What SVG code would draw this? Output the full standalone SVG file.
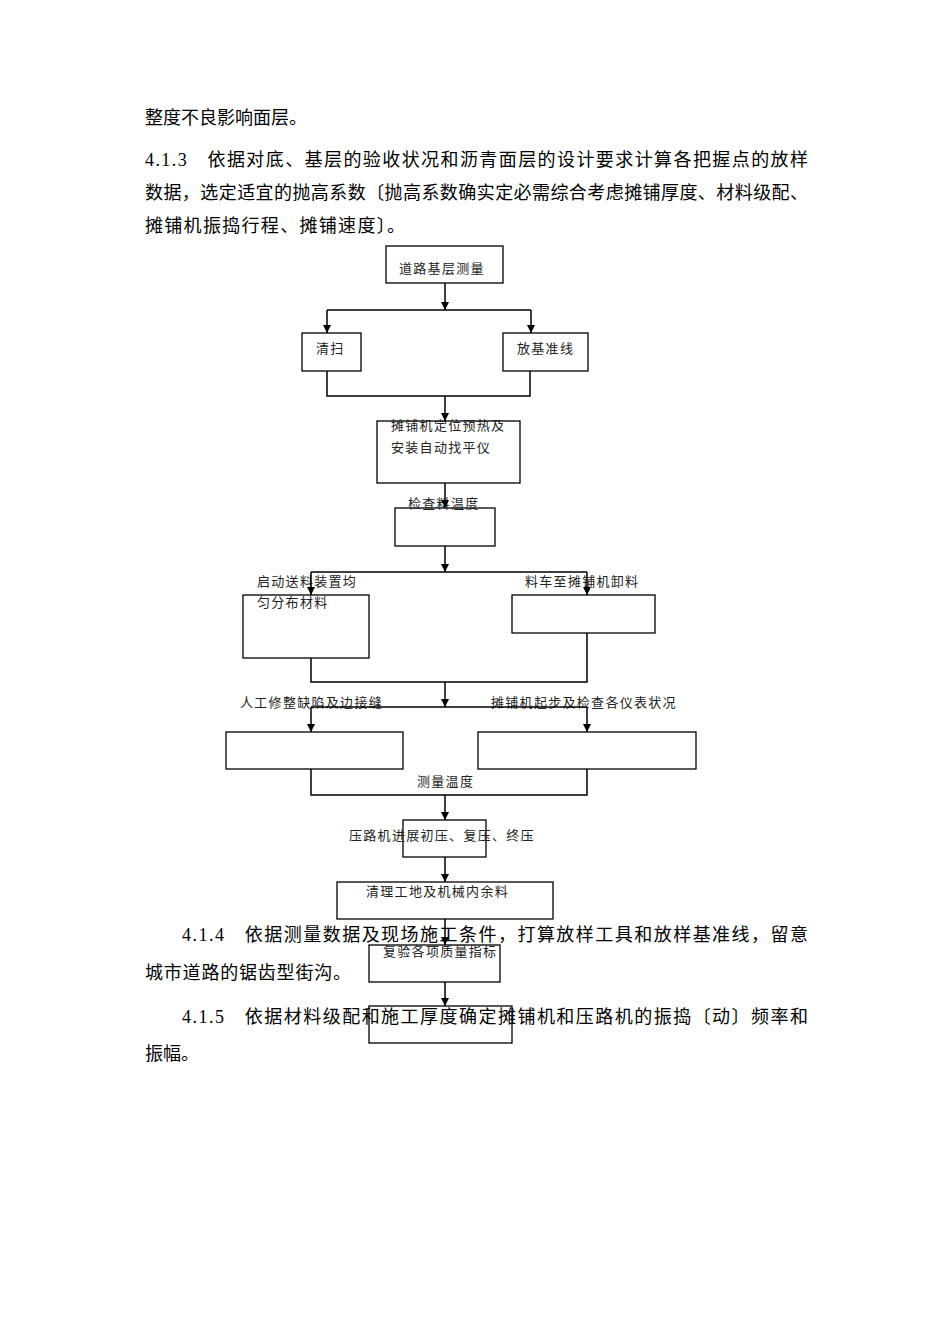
<svg xmlns="http://www.w3.org/2000/svg" width="950" height="1344" viewBox="0 0 950 1344">
<style>
.b{font-family:"Liberation Serif","Noto Sans CJK SC",serif;font-size:18px;fill:#000}
.l{font-family:"Liberation Serif","Noto Sans CJK SC",serif;font-size:13px;letter-spacing:1.3px;fill:#222}
.n{fill:#fff;stroke:#000;stroke-width:1.3}
.c{fill:none;stroke:#000;stroke-width:1.5}
</style>
<defs><marker id="a" markerWidth="8" markerHeight="8" refX="8" refY="4" orient="auto" markerUnits="userSpaceOnUse"><path d="M0,0 L8,4 L0,8 Z" fill="#000"/></marker></defs>
<rect width="950" height="1344" fill="#fff"/>
<g id="text">
<text class="b" x="145" y="124">整度不良影响面层。</text>
<text class="b" x="145" y="166" textLength="663">4.1.3　依据对底、基层的验收状况和沥青面层的设计要求计算各把握点的放样</text>
<text class="b" x="145" y="199" textLength="663">数据，选定适宜的抛高系数〔抛高系数确实定必需综合考虑摊铺厚度、材料级配、</text>
<text class="b" x="145" y="232" textLength="260">摊铺机振捣行程、摊铺速度〕。</text>
</g>
<g id="n1"><rect class="n" x="386" y="246" width="117" height="37"/><text class="l" x="399" y="273">道路基层测量</text></g>
<g id="n2"><rect class="n" x="302" y="333" width="59" height="38"/><text class="l" x="316" y="353">清扫</text></g>
<g id="n3"><rect class="n" x="503" y="333" width="85" height="38"/><text class="l" x="517" y="353">放基准线</text></g>
<g id="n4"><rect class="n" x="377" y="421" width="143" height="62"/><text class="l" x="391" y="430">摊铺机定位预热及</text><text class="l" x="391" y="452">安装自动找平仪</text></g>
<g id="n5"><rect class="n" x="395" y="508" width="100" height="38"/><text class="l" x="408" y="508">检查料温度</text></g>
<g id="n6"><rect class="n" x="243" y="595" width="126" height="63"/><text class="l" x="257" y="586">启动送料装置均</text><text class="l" x="257" y="607">匀分布材料</text></g>
<g id="n7"><rect class="n" x="512" y="595" width="143" height="38"/><text class="l" x="525" y="586">料车至摊铺机卸料</text></g>
<g id="n8"><rect class="n" x="226" y="732" width="177" height="37"/><text class="l" x="240" y="707">人工修整缺陷及边接缝</text></g>
<g id="n9"><rect class="n" x="478" y="732" width="218" height="37"/><text class="l" x="491" y="707">摊铺机起步及检查各仪表状况</text></g>
<g id="n10"><rect class="n" x="403" y="820" width="83" height="37"/><text class="l" x="349" y="840">压路机进展初压、复压、终压</text></g>
<g id="n11"><rect class="n" x="337" y="882" width="216" height="37"/><text class="l" x="366" y="896">清理工地及机械内余料</text></g>
<g id="n12"><rect class="n" x="369" y="945" width="131" height="37"/><text class="l" x="383" y="956">复验各项质量指标</text></g>
<g id="n13"><rect class="n" x="369" y="1006" width="143" height="37"/></g>
<text class="l" x="417" y="786">测量温度</text>
<g id="connectors">
<path class="c" d="M445,283 V310" marker-end="url(#a)"/>
<path class="c" d="M327,310 H531"/>
<path class="c" d="M327,310 V333" marker-end="url(#a)"/>
<path class="c" d="M531,310 V333" marker-end="url(#a)"/>
<path class="c" d="M327,371 V396 H530 V371"/>
<path class="c" d="M445,396 V421" marker-end="url(#a)"/>
<path class="c" d="M445,483 V508" marker-end="url(#a)"/>
<path class="c" d="M445,546 V572" marker-end="url(#a)"/>
<path class="c" d="M311,572 H587"/>
<path class="c" d="M311,572 V595" marker-end="url(#a)"/>
<path class="c" d="M587,572 V595" marker-end="url(#a)"/>
<path class="c" d="M311,658 V682 H587 V633"/>
<path class="c" d="M445,682 V707" marker-end="url(#a)"/>
<path class="c" d="M311,707 H587"/>
<path class="c" d="M311,707 V732" marker-end="url(#a)"/>
<path class="c" d="M587,707 V732" marker-end="url(#a)"/>
<path class="c" d="M311,769 V795 H587 V769"/>
<path class="c" d="M445,795 V820" marker-end="url(#a)"/>
<path class="c" d="M445,857 V882" marker-end="url(#a)"/>
<path class="c" d="M445,919 V945" marker-end="url(#a)"/>
<path class="c" d="M445,982 V1006" marker-end="url(#a)"/>
</g>
<g id="text2">
<text class="b" x="182" y="941" textLength="626">4.1.4　依据测量数据及现场施工条件，打算放样工具和放样基准线，留意</text>
<text class="b" x="145" y="979" textLength="206">城市道路的锯齿型街沟。</text>
<text class="b" x="182" y="1023" textLength="626">4.1.5　依据材料级配和施工厚度确定摊铺机和压路机的振捣〔动〕频率和</text>
<text class="b" x="145" y="1060">振幅。</text>
</g>
</svg>
